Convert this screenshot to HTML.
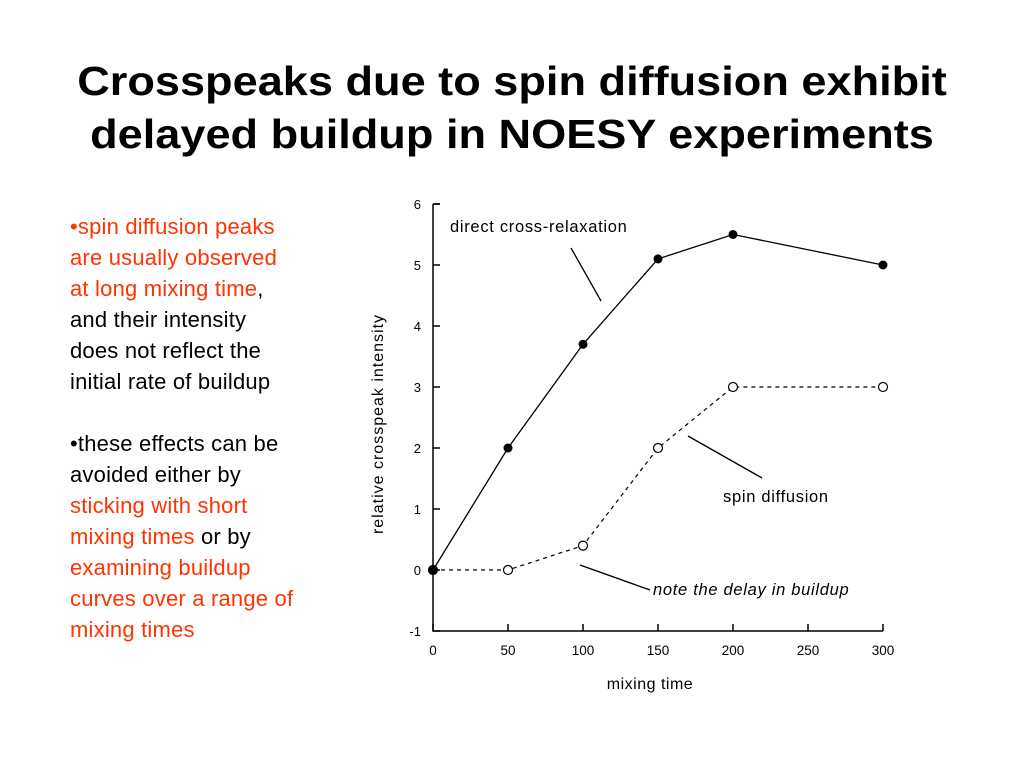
<!DOCTYPE html>
<html><head><meta charset="utf-8"><style>
body{margin:0;width:1024px;height:768px;background:#fff;font-family:"Liberation Sans",Arial,sans-serif;position:relative;overflow:hidden}
#title{position:absolute;left:0;top:55px;width:1024px;text-align:center;font-weight:bold;font-size:41px;line-height:53px;color:#000;transform:scaleX(1.1);transform-origin:512px 0}
#notes{position:absolute;left:70px;top:211px;font-size:22px;line-height:31px;color:#000;width:340px;white-space:nowrap;letter-spacing:0.2px}
.r{color:#ff3300}
svg{position:absolute;left:0;top:0}
</style></head><body>
<div id="title">Crosspeaks due to spin diffusion exhibit<br>delayed buildup in NOESY experiments</div>
<div id="notes">
<div><span class="r">•spin diffusion peaks<br>are usually observed<br>at long mixing time</span>,<br>and their intensity<br>does not reflect the<br>initial rate of buildup</div>
<div style="height:31px"></div>
<div>•these effects can be<br>avoided either by<br><span class="r">sticking with short<br>mixing times</span> or by<br><span class="r">examining buildup<br>curves over a range of<br>mixing times</span></div>
</div>
<svg id="chart" width="1024" height="768" font-family="Liberation Sans, Arial, sans-serif"></svg>
<script>
const xValues=[0,50,100,150,200,300];
const directValues=[0,2,3.7,5.1,5.5,5.0];
const spinValues=[0,0,0.4,2,3,3];
const xTicks=[0,50,100,150,200,250,300];
const yTicks=[-1,0,1,2,3,4,5,6];
const NS="http://www.w3.org/2000/svg";
const svg=document.getElementById('chart');
const X=v=>433+v*1.5, Y=v=>570-v*61;
function mk(t,a,p){const e=document.createElementNS(NS,t);for(const k in a)e.setAttribute(k,a[k]);(p||svg).appendChild(e);return e;}
let e;
e=mk('path',{d:`M${X(0)},${Y(6)}H${X(0)+7}M${X(0)},${Y(6)}V${Y(-1)}H${X(300)}`,stroke:'#000','stroke-width':1.5,fill:'none'});


yTicks.forEach(v=>{
 e=mk('line',{x1:X(0),x2:X(0)+7,y1:Y(v),y2:Y(v),stroke:'#000','stroke-width':1.5});
 
 
 e=mk('text',{x:X(0)-12,y:Y(v)+5,'font-size':13,'text-anchor':'end'});e.textContent=v;
 
 
});
xTicks.forEach(v=>{
 e=mk('line',{x1:X(v),x2:X(v),y1:Y(-1),y2:Y(-1)-7,stroke:'#000','stroke-width':1.5});
 
 
 e=mk('text',{x:X(v),y:655,'font-size':13.5,'text-anchor':'middle'});e.textContent=v;
 
 
});
e=mk('text',{x:650,y:689,'font-size':16,'letter-spacing':0.5,'text-anchor':'middle'});e.textContent='mixing time';


e=mk('text',{x:0,y:0,'font-size':16,'letter-spacing':1,'text-anchor':'middle',transform:'translate(383,424) rotate(-90)'});e.textContent='relative crosspeak intensity';


e=mk('polyline',{points:xValues.map((x,i)=>X(x)+','+Y(spinValues[i])).join(' '),fill:'none',stroke:'#000','stroke-width':1.2,'stroke-dasharray':'4,4'});


e=mk('polyline',{points:xValues.map((x,i)=>X(x)+','+Y(directValues[i])).join(' '),fill:'none',stroke:'#000','stroke-width':1.3});


xValues.forEach((x,i)=>{
 e=mk('circle',{cx:X(x),cy:Y(spinValues[i]),r:4.5,fill:'#fff',stroke:'#000','stroke-width':1.2});
 
 
});
xValues.forEach((x,i)=>{
 e=mk('circle',{cx:X(x),cy:Y(directValues[i]),r:4.5,fill:'#000'});
 
 
});
[[571,248,601,301],[688,436,762,478],[580,565,650,590]].forEach(l=>{
 e=mk('line',{x1:l[0],y1:l[1],x2:l[2],y2:l[3],stroke:'#000','stroke-width':1.3});
 
 
});
[['direct cross-relaxation',450,232,'normal'],['spin diffusion',723,502,'normal'],['note the delay in buildup',653,595,'italic']].forEach(a=>{
 e=mk('text',{x:a[1],y:a[2],'font-size':16.5,'letter-spacing':0.7,'font-style':a[3]});e.textContent=a[0];
 
 
});
</script>
</body></html>
